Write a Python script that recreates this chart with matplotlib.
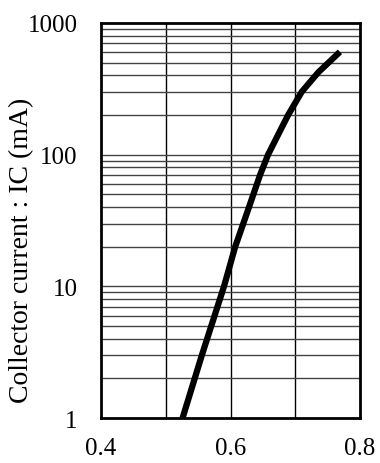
import matplotlib
matplotlib.use("Agg")
import matplotlib.pyplot as plt

# VBE (V) vs collector current (mA)
vbe = [0.526, 0.5555, 0.590, 0.607, 0.6286, 0.6456, 0.658, 0.673, 0.689, 0.710, 0.7356, 0.769]
ic = [1.0, 2.97, 10.0, 19.8, 40.0, 70.0, 100.0, 140.0, 200.0, 300.0, 422.0, 604.0]

xticks = [0.4, 0.6, 0.8]
xticklabels = ["0.4", "0.6", "0.8"]
yticks = [1, 10, 100, 1000]
yticklabels = ["1", "10", "100", "1000"]

plt.rcParams['font.family'] = ['Liberation Serif', 'DejaVu Serif']

fig = plt.figure(figsize=(3.8, 4.64), dpi=100)
ax = fig.add_axes([101/380, 1-419/464, 259/380, 395/464])

ax.set_yscale('log')
ax.set_xlim(0.4, 0.8)
ax.set_ylim(1, 1000)

# grid: verticals every 0.1, horizontals at every 1..9 of each decade
for v in [0.5, 0.6, 0.7]:
    ax.axvline(v, color='black', lw=1.0, zorder=1)
for dec in [1, 10, 100]:
    for m in range(1, 10):
        y = dec * m
        if 1 < y < 1000:
            ax.axhline(y, color='#444444', lw=1.0, zorder=1)

ax.plot(vbe, ic, color='black', lw=4.5, solid_capstyle='butt',
        solid_joinstyle='round', zorder=3)

ax.set_xticks(xticks)
ax.set_xticklabels(xticklabels)
ax.set_yticks(yticks)
ax.set_yticklabels(yticklabels)
ax.yaxis.set_minor_locator(matplotlib.ticker.NullLocator())
ax.tick_params(axis='both', length=0, labelsize=18)
ax.tick_params(axis='x', pad=14)
ax.tick_params(axis='y', pad=17)

for s in ax.spines.values():
    s.set_linewidth(2)
    s.set_zorder(4)

fig.text(22/380, 1-250/464, "Collector current : IC (mA)", rotation=90,
         ha='center', va='center', fontsize=20)

fig.savefig("out.png", dpi=100)
